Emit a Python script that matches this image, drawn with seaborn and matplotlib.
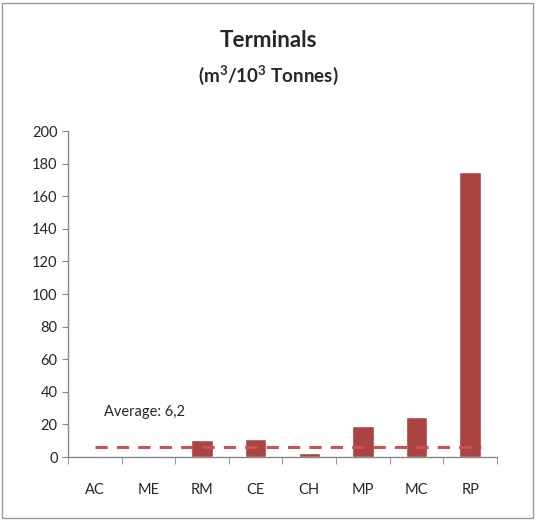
import matplotlib
matplotlib.use("Agg")
import matplotlib.pyplot as plt
import seaborn as sns
import pandas as pd
from matplotlib.patches import Rectangle

categories = ["AC", "ME", "RM", "CE", "CH", "MP", "MC", "RP"]
values = [0, 0.8, 10.4, 11, 2.6, 19, 24.3, 175]
average = 6.2
yticks = list(range(0, 201, 20))

df = pd.DataFrame({"terminal": categories, "value": values})

sns.set_style("white")
plt.rcParams["font.family"] = ["Lato", "DejaVu Sans"]
plt.rcParams["mathtext.fontset"] = "custom"
plt.rcParams["mathtext.bf"] = "Lato:bold"
plt.rcParams["mathtext.rm"] = "Lato:bold"

fig = plt.figure(figsize=(5.36, 5.20), dpi=100)
ax = fig.add_axes([0.127, 0.121, 0.8, 0.627])

sns.barplot(data=df, x="terminal", y="value", color="#A94442", width=0.4,
            saturation=1, ax=ax)

# average line
ax.plot([0, 7.2], [average, average], ls=(0, (4, 3)), color="#CD524E", lw=2.2)
ax.text(0.17, 27.5, "Average: 6,2", fontsize=10.5, va="center", ha="left")

ax.set_ylim(0, 200)
ax.set_xlim(-0.5, 7.5)
ax.set_yticks(yticks)
ax.set_xlabel("")
ax.set_ylabel("")
ax.tick_params(axis="y", labelsize=10.5, length=4, direction="out", left=True, color="#888888")
ax.tick_params(axis="x", which="major", length=0, labelsize=10.5, pad=19)
ax.set_xticks([i - 0.5 for i in range(9)], minor=True)
ax.tick_params(axis="x", which="minor", length=5, direction="out", bottom=True, color="#888888")

for s in ["top", "right"]:
    ax.spines[s].set_visible(False)
for s in ["left", "bottom"]:
    ax.spines[s].set_color("#888888")
    ax.spines[s].set_linewidth(1)

fig.text(0.5, 0.922, "Terminals", ha="center", va="center", fontsize=16, fontweight="bold")
fig.text(0.5, 0.856, r"(m$^{\mathbf{3}}$/10$^{\mathbf{3}}$ Tonnes)", ha="center", va="center",
         fontsize=13.5, fontweight="bold")

fig.patches.append(Rectangle((0.004, 0.004), 0.99, 0.99, transform=fig.transFigure,
                             fill=False, edgecolor="#999999", lw=1))

fig.savefig("out.png", dpi=100)
